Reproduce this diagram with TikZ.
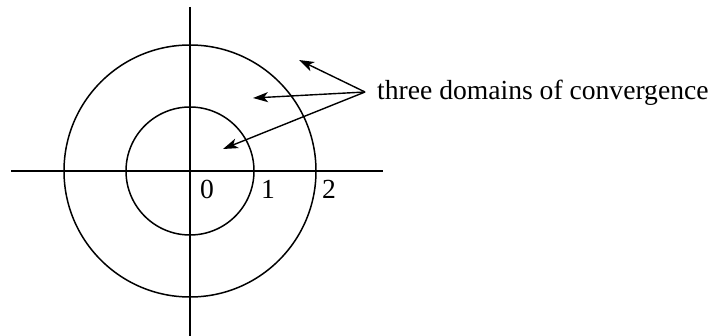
\documentclass[tikz,border=0pt]{standalone}
\usepackage{fontspec}
\setmainfont{Liberation Serif}
\usetikzlibrary{arrows.meta}
\tikzset{
  axis/.style={line width=1.5pt},
  circ/.style={line width=1.5pt},
  ptr/.style={line width=1.4pt,-{Stealth[length=15pt,width=10pt,inset=4pt]}},
  lbl/.style={inner sep=0pt,font=\fontsize{27.6}{31}\selectfont},
}
\begin{document}
\begin{tikzpicture}[x=1pt,y=-1pt]
\useasboundingbox (0,0) rectangle (712,336);
\coordinate (O) at (190,171);
\coordinate (vt) at (190,7);
\coordinate (vb) at (190,336);
\coordinate (hl) at (11,171);
\coordinate (hr) at (383,171);
\draw[axis] (vt) -- (vb);
\draw[axis] (hl) -- (hr);
\draw[circ] (O) circle[radius=64];
\draw[circ] (O) circle[radius=126];
\node[lbl] (z) at (207,189) {0};
\node[lbl] (one) at (268,189) {1};
\node[lbl] (two) at (329,189) {2};
\node[lbl,anchor=base west] (txt) at (377,100) {three domains of convergence};
\coordinate (apex) at (365,92);
\coordinate (t1) at (299,60);
\coordinate (t2) at (253,98);
\coordinate (t3) at (223,149);
\draw[ptr] (apex) -- (t1);
\draw[ptr] (apex) -- (t2);
\draw[ptr] (apex) -- (t3);
\end{tikzpicture}
\end{document}
